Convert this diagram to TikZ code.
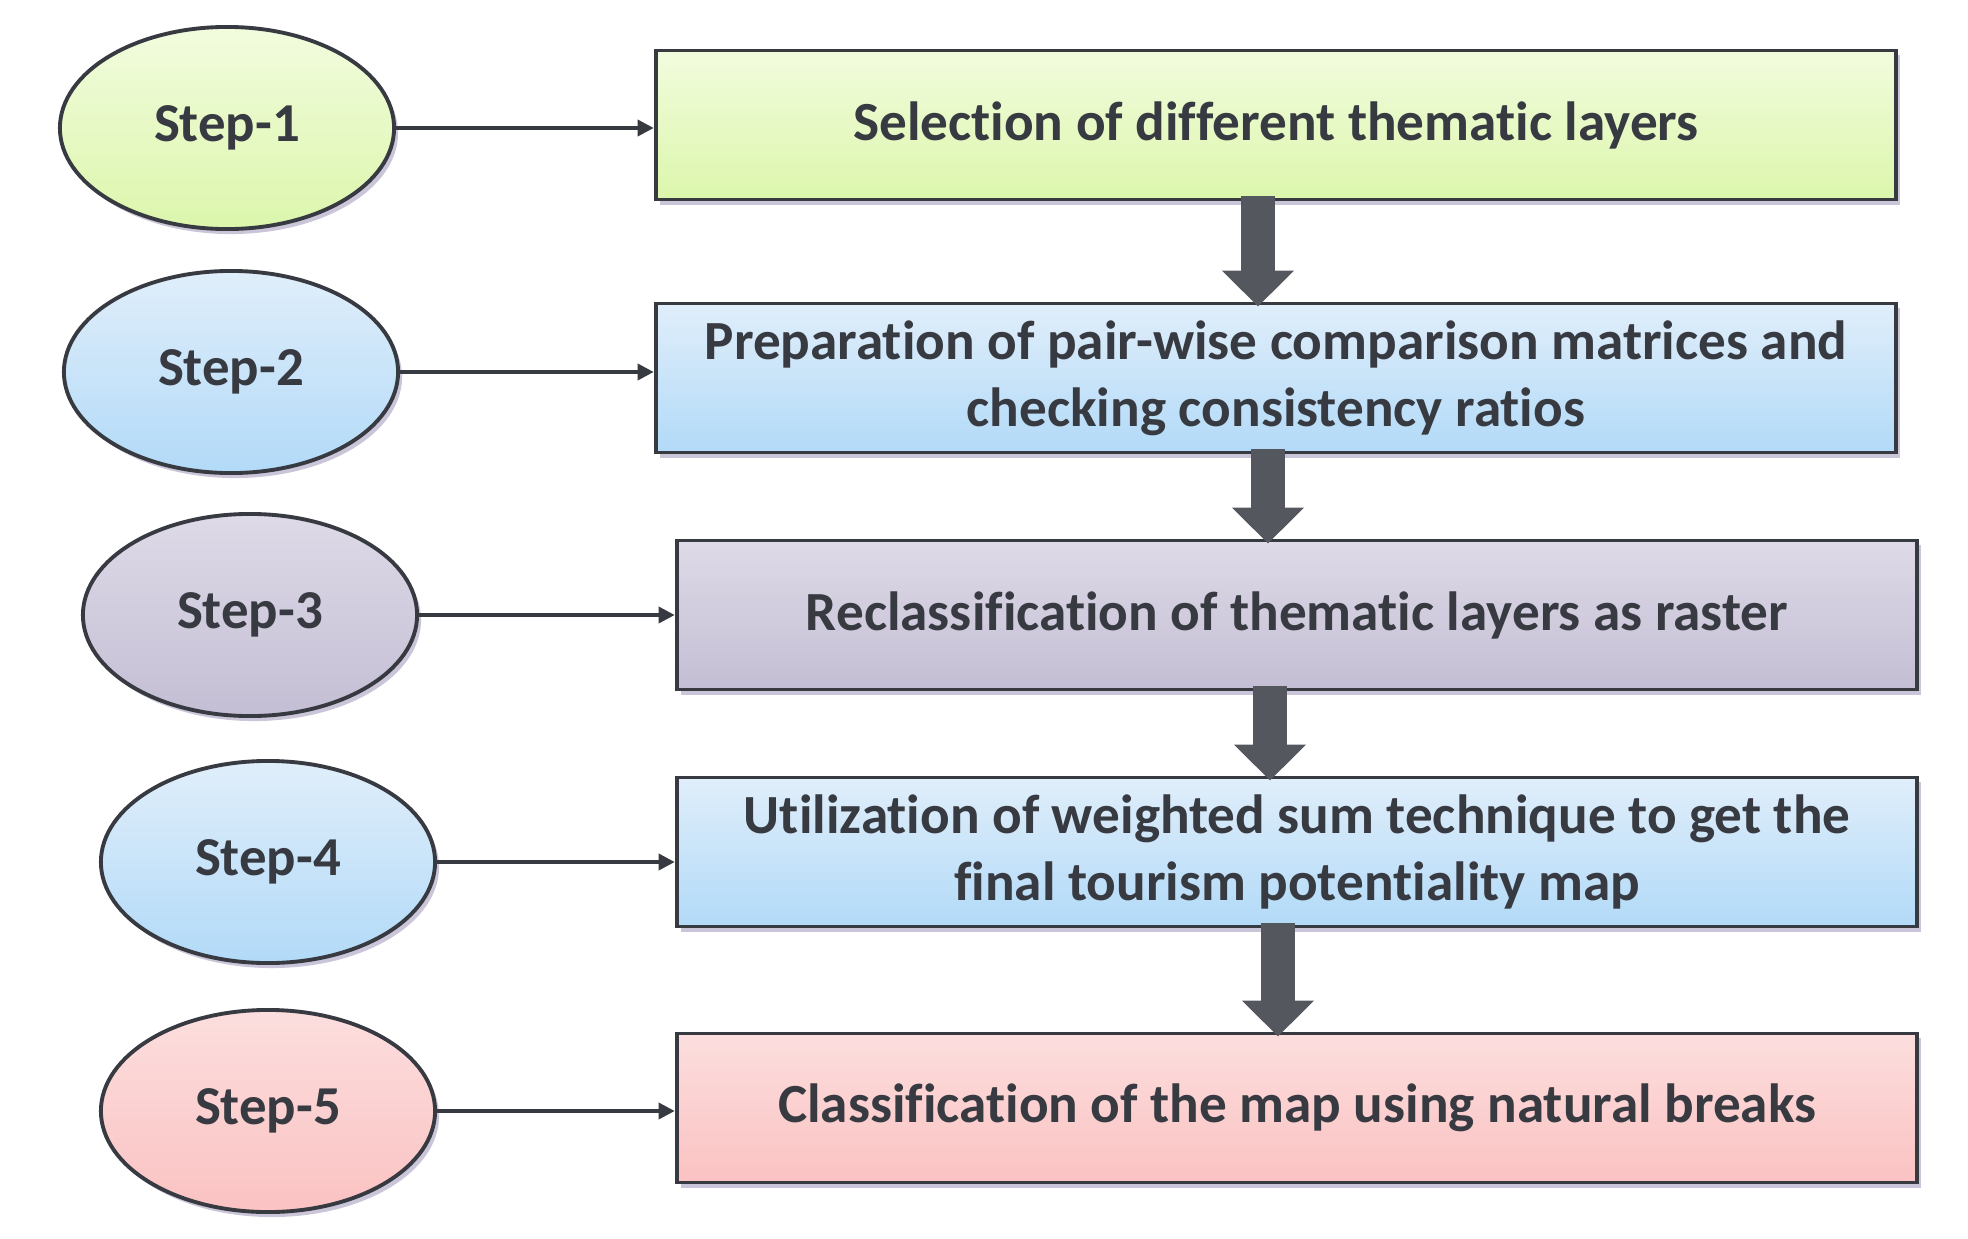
\documentclass[tikz,border=0pt]{standalone}
\usepackage{fontspec}
\setmainfont{Carlito}[Ligatures=NoCommon]
\usetikzlibrary{arrows.meta,shapes.geometric,shadows}

\definecolor{ink}{HTML}{383A42}
\definecolor{arrowgray}{HTML}{55575F}
\definecolor{shade}{HTML}{C4BFD4}
\definecolor{greenA}{HTML}{F2FCDE}
\definecolor{greenB}{HTML}{DCF6AC}
\definecolor{blueA}{HTML}{E0EEFA}
\definecolor{blueB}{HTML}{B2DAF8}
\definecolor{lilacA}{HTML}{DEDAE7}
\definecolor{lilacB}{HTML}{C4BED4}
\definecolor{pinkA}{HTML}{FCDEDE}
\definecolor{pinkB}{HTML}{FBC2C2}

\tikzset{
  stepnode/.style={ellipse,draw=ink,line width=1.1pt,minimum width=3.34cm,minimum height=2.02cm,
    text=ink,font=\fontsize{15.6}{19}\selectfont\bfseries,
    drop shadow={shadow xshift=0.04cm,shadow yshift=-0.05cm,fill=shade,opacity=0.9}},
  taskbox/.style={rectangle,draw=ink,line width=1.1pt,minimum width=12.4cm,minimum height=1.49cm,
    align=center,text=ink,font=\fontsize{15.7}{19}\selectfont\bfseries,
    drop shadow={shadow xshift=0.04cm,shadow yshift=-0.05cm,fill=shade,opacity=0.9}},
  link/.style={draw=ink,line width=1pt,-{Triangle[length=0.16cm,width=0.16cm]}},
  bigarrow/.style={draw=arrowgray,line width=0.33cm,-{Triangle[length=0.36cm,width=0.7cm]},
    shorten <=-0.05cm,shorten >=-0.05cm}
}

\begin{document}
\begin{tikzpicture}[x=0.01cm,y=-0.01cm]
\useasboundingbox (0,0) rectangle (1968,1239);

% steps on the left
\foreach \t/\ca/\cb/\x/\y [count=\n] in {Step-1/greenA/greenB/227/128,
                                         Step-2/blueA/blueB/231/372,
                                         Step-3/lilacA/lilacB/250/615,
                                         Step-4/blueA/blueB/268/862,
                                         Step-5/pinkA/pinkB/268/1111}
  \node[stepnode,top color=\ca,bottom color=\cb](E\n) at (\x,\y){\t};

% tasks on the right
\foreach \t/\ca/\cb/\x/\y [count=\n] in {Selection of different thematic layers/greenA/greenB/1276/125,
    Preparation of pair-wise comparison matrices and\\checking consistency ratios/blueA/blueB/1276/378,
    Reclassification of thematic layers as raster/lilacA/lilacB/1297/615,
    Utilization of weighted sum technique to get the\\final tourism potentiality map/blueA/blueB/1297/852,
    Classification of the map using natural breaks/pinkA/pinkB/1297/1108}
  \node[taskbox,top color=\ca,bottom color=\cb](B\n) at (\x,\y){\t};

\foreach \n in {1,...,5}
  \draw[link] (E\n.east) -- (E\n.east -| B\n.west);

\foreach \a/\b/\s in {1/2/-18,2/3/-8,3/4/-27,4/5/-19}
  \draw[bigarrow] ([xshift=\s*0.01cm]B\a.south) -- ([xshift=\s*0.01cm]B\a.south |- B\b.north);
\end{tikzpicture}
\end{document}
